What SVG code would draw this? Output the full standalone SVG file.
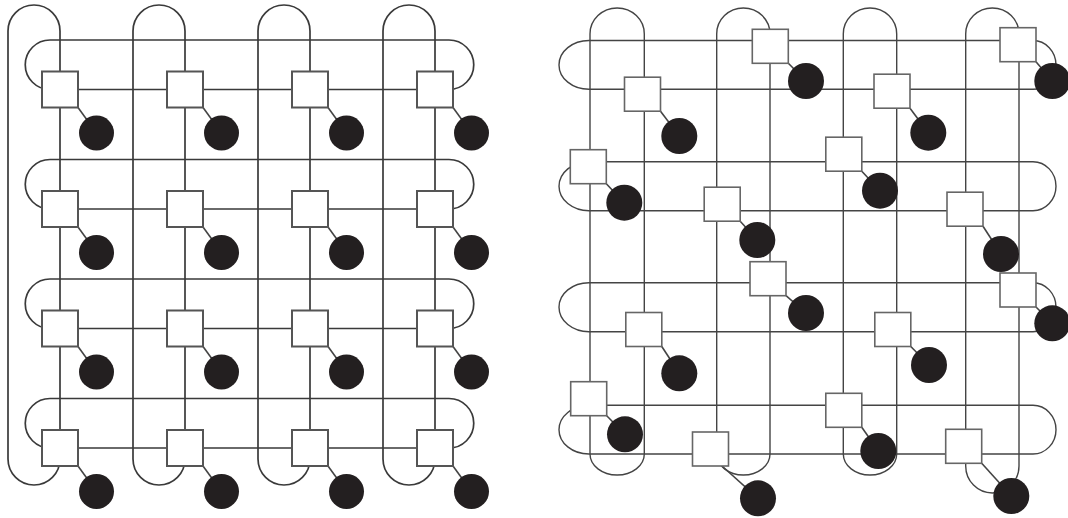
<svg xmlns="http://www.w3.org/2000/svg" width="1068" height="518" viewBox="0 0 1068 518">
<style>
.bg{fill:#ffffff}
.wl{fill:none;stroke:#3a3a3a;stroke-width:1.7}
.wr{fill:none;stroke:#444;stroke-width:1.4}
.sqL{fill:#fff;stroke:#555;stroke-width:2}
.sqR{fill:#fff;stroke:#666;stroke-width:1.6}
.lk{stroke:#444;stroke-width:1.6}
.pe{fill:#231f20}
</style>
<rect class="bg" x="0" y="0" width="1068" height="518"/>
<g id="connectors">
<g id="left-links">
<path class="wl" d="M60 31 A26 26 0 0 0 8 31 L8 459 A26 26 0 0 0 60 459 Z"/>
<path class="wl" d="M185 31 A26 26 0 0 0 133 31 L133 459 A26 26 0 0 0 185 459 Z"/>
<path class="wl" d="M310 31 A26 26 0 0 0 258 31 L258 459 A26 26 0 0 0 310 459 Z"/>
<path class="wl" d="M435 31 A26 26 0 0 0 383 31 L383 459 A26 26 0 0 0 435 459 Z"/>
<path class="wl" d="M449 40 L50 40 A24.75 24.75 0 0 0 50 89.5 L449 89.5 A24.75 24.75 0 0 0 449 40 Z"/>
<path class="wl" d="M449 159.5 L50 159.5 A24.75 24.75 0 0 0 50 209 L449 209 A24.75 24.75 0 0 0 449 159.5 Z"/>
<path class="wl" d="M449 279 L50 279 A24.75 24.75 0 0 0 50 328.5 L449 328.5 A24.75 24.75 0 0 0 449 279 Z"/>
<path class="wl" d="M449 398.5 L50 398.5 A24.75 24.75 0 0 0 50 448 L449 448 A24.75 24.75 0 0 0 449 398.5 Z"/>
</g>
<g id="right-links">
<path class="wr" d="M644.3 34 A27.15 26 0 0 0 590 34 L590 454 A27.15 21 0 0 0 644.3 454 Z"/>
<path class="wr" d="M770 34 A26.65 26 0 0 0 716.7 34 L716.7 454 A26.65 21 0 0 0 770 454 Z"/>
<path class="wr" d="M896.7 34 A26.7 26 0 0 0 843.3 34 L843.3 454 A26.7 21 0 0 0 896.7 454 Z"/>
<path class="wr" d="M1019 34 A26.65 26 0 0 0 965.7 34 L965.7 466 A26.65 27 0 0 0 1019 466 Z"/>
<path class="wr" d="M1033 40.5 L589 40.5 A30 24.4 0 0 0 589 89.3 L1033 89.3 A23 24.4 0 0 0 1033 40.5 Z"/>
<path class="wr" d="M1033 161.7 L589 161.7 A30 24.5 0 0 0 589 210.7 L1033 210.7 A23 24.5 0 0 0 1033 161.7 Z"/>
<path class="wr" d="M1033 282.7 L589 282.7 A30 24.5 0 0 0 589 331.7 L1033 331.7 A23 24.5 0 0 0 1033 282.7 Z"/>
<path class="wr" d="M1033 405.3 L589 405.3 A30 24.35 0 0 0 589 454 L1033 454 A23 24.35 0 0 0 1033 405.3 Z"/>
</g>
</g>
<g id="left-nodes">
<g id="L11"><line class="lk" x1="78" y1="107.5" x2="96.5" y2="133"/><rect class="sqL" x="42" y="71.5" width="36" height="36"/><circle class="pe" cx="96.5" cy="133" r="17.5"/></g>
<g id="L12"><line class="lk" x1="203" y1="107.5" x2="221.5" y2="133"/><rect class="sqL" x="167" y="71.5" width="36" height="36"/><circle class="pe" cx="221.5" cy="133" r="17.5"/></g>
<g id="L13"><line class="lk" x1="328" y1="107.5" x2="346.5" y2="133"/><rect class="sqL" x="292" y="71.5" width="36" height="36"/><circle class="pe" cx="346.5" cy="133" r="17.5"/></g>
<g id="L14"><line class="lk" x1="453" y1="107.5" x2="471.5" y2="133"/><rect class="sqL" x="417" y="71.5" width="36" height="36"/><circle class="pe" cx="471.5" cy="133" r="17.5"/></g>
<g id="L21"><line class="lk" x1="78" y1="227" x2="96.5" y2="252.5"/><rect class="sqL" x="42" y="191" width="36" height="36"/><circle class="pe" cx="96.5" cy="252.5" r="17.5"/></g>
<g id="L22"><line class="lk" x1="203" y1="227" x2="221.5" y2="252.5"/><rect class="sqL" x="167" y="191" width="36" height="36"/><circle class="pe" cx="221.5" cy="252.5" r="17.5"/></g>
<g id="L23"><line class="lk" x1="328" y1="227" x2="346.5" y2="252.5"/><rect class="sqL" x="292" y="191" width="36" height="36"/><circle class="pe" cx="346.5" cy="252.5" r="17.5"/></g>
<g id="L24"><line class="lk" x1="453" y1="227" x2="471.5" y2="252.5"/><rect class="sqL" x="417" y="191" width="36" height="36"/><circle class="pe" cx="471.5" cy="252.5" r="17.5"/></g>
<g id="L31"><line class="lk" x1="78" y1="346.5" x2="96.5" y2="372"/><rect class="sqL" x="42" y="310.5" width="36" height="36"/><circle class="pe" cx="96.5" cy="372" r="17.5"/></g>
<g id="L32"><line class="lk" x1="203" y1="346.5" x2="221.5" y2="372"/><rect class="sqL" x="167" y="310.5" width="36" height="36"/><circle class="pe" cx="221.5" cy="372" r="17.5"/></g>
<g id="L33"><line class="lk" x1="328" y1="346.5" x2="346.5" y2="372"/><rect class="sqL" x="292" y="310.5" width="36" height="36"/><circle class="pe" cx="346.5" cy="372" r="17.5"/></g>
<g id="L34"><line class="lk" x1="453" y1="346.5" x2="471.5" y2="372"/><rect class="sqL" x="417" y="310.5" width="36" height="36"/><circle class="pe" cx="471.5" cy="372" r="17.5"/></g>
<g id="L41"><line class="lk" x1="78" y1="466" x2="96.5" y2="491.5"/><rect class="sqL" x="42" y="430" width="36" height="36"/><circle class="pe" cx="96.5" cy="491.5" r="17.5"/></g>
<g id="L42"><line class="lk" x1="203" y1="466" x2="221.5" y2="491.5"/><rect class="sqL" x="167" y="430" width="36" height="36"/><circle class="pe" cx="221.5" cy="491.5" r="17.5"/></g>
<g id="L43"><line class="lk" x1="328" y1="466" x2="346.5" y2="491.5"/><rect class="sqL" x="292" y="430" width="36" height="36"/><circle class="pe" cx="346.5" cy="491.5" r="17.5"/></g>
<g id="L44"><line class="lk" x1="453" y1="466" x2="471.5" y2="491.5"/><rect class="sqL" x="417" y="430" width="36" height="36"/><circle class="pe" cx="471.5" cy="491.5" r="17.5"/></g>
</g>
<g id="right-nodes">
<g id="Ra"><line class="lk" x1="788.3" y1="63.3" x2="806" y2="81"/><rect class="sqR" x="752.3" y="29.3" width="36" height="34"/><circle class="pe" cx="806" cy="81" r="18"/></g>
<g id="Rb"><line class="lk" x1="660.5" y1="111.2" x2="679.3" y2="136"/><rect class="sqR" x="624.5" y="77.2" width="36" height="34"/><circle class="pe" cx="679.3" cy="136" r="18"/></g>
<g id="Rc"><line class="lk" x1="606.3" y1="183.7" x2="624.3" y2="202.7"/><rect class="sqR" x="570.3" y="149.7" width="36" height="34"/><circle class="pe" cx="624.3" cy="202.7" r="18"/></g>
<g id="Rd"><line class="lk" x1="740.2" y1="221.2" x2="757.3" y2="240"/><rect class="sqR" x="704.2" y="187.2" width="36" height="34"/><circle class="pe" cx="757.3" cy="240" r="18"/></g>
<g id="Re"><line class="lk" x1="910" y1="108.2" x2="928.3" y2="132.7"/><rect class="sqR" x="874" y="74.2" width="36" height="34"/><circle class="pe" cx="928.3" cy="132.7" r="18"/></g>
<g id="Rf"><line class="lk" x1="1036" y1="61.7" x2="1052.3" y2="81"/><rect class="sqR" x="1000" y="27.7" width="36" height="34"/><circle class="pe" cx="1052.3" cy="81" r="18"/></g>
<g id="Rg"><line class="lk" x1="861.8" y1="171.2" x2="880" y2="190.7"/><rect class="sqR" x="825.8" y="137.2" width="36" height="34"/><circle class="pe" cx="880" cy="190.7" r="18"/></g>
<g id="Rh"><line class="lk" x1="983" y1="226.2" x2="1001" y2="254"/><rect class="sqR" x="947" y="192.2" width="36" height="34"/><circle class="pe" cx="1001" cy="254" r="18"/></g>
<g id="Ri"><line class="lk" x1="786" y1="295.7" x2="806" y2="313"/><rect class="sqR" x="750" y="261.7" width="36" height="34"/><circle class="pe" cx="806" cy="313" r="18"/></g>
<g id="Rj"><line class="lk" x1="661.8" y1="346.5" x2="679.3" y2="373.3"/><rect class="sqR" x="625.8" y="312.5" width="36" height="34"/><circle class="pe" cx="679.3" cy="373.3" r="18"/></g>
<g id="Rk"><line class="lk" x1="606.7" y1="415.7" x2="625" y2="434.3"/><rect class="sqR" x="570.7" y="381.7" width="36" height="34"/><circle class="pe" cx="625" cy="434.3" r="18"/></g>
<g id="Rl"><line class="lk" x1="722" y1="466" x2="758" y2="498.3"/><rect class="sqR" x="692.5" y="432" width="36" height="34"/><circle class="pe" cx="758" cy="498.3" r="18"/></g>
<g id="Rm"><line class="lk" x1="1036" y1="307" x2="1052.3" y2="323.3"/><rect class="sqR" x="1000" y="273" width="36" height="34"/><circle class="pe" cx="1052.3" cy="323.3" r="18"/></g>
<g id="Rn"><line class="lk" x1="910.8" y1="346.5" x2="929" y2="365"/><rect class="sqR" x="874.8" y="312.5" width="36" height="34"/><circle class="pe" cx="929" cy="365" r="18"/></g>
<g id="Ro"><line class="lk" x1="861.8" y1="427.3" x2="878.3" y2="451"/><rect class="sqR" x="825.8" y="393.3" width="36" height="34"/><circle class="pe" cx="878.3" cy="451" r="18"/></g>
<g id="Rp"><line class="lk" x1="981.7" y1="463.3" x2="1011.3" y2="496"/><rect class="sqR" x="945.7" y="429.3" width="36" height="34"/><circle class="pe" cx="1011.3" cy="496" r="18"/></g>
</g>
</svg>
